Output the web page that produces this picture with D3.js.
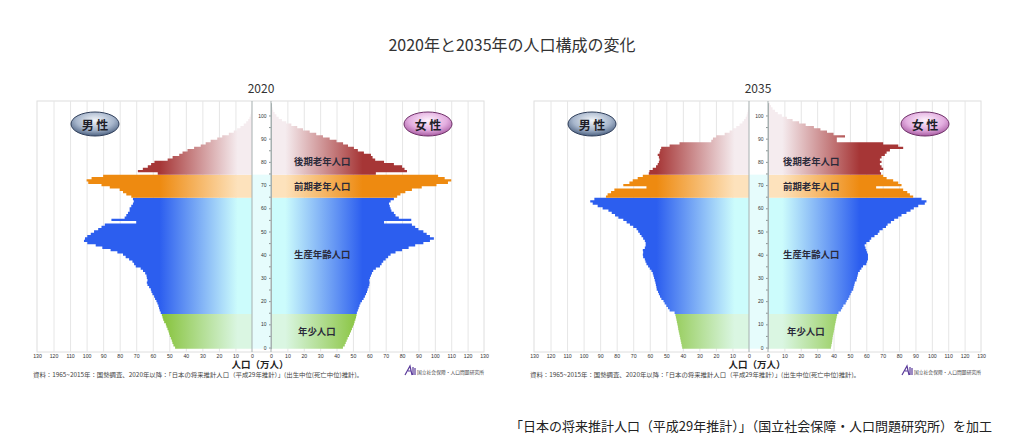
<!DOCTYPE html>
<html>
<head>
<meta charset="utf-8">
<script src="https://cdn.jsdelivr.net/npm/d3@7"></script>
<style>
  body { margin: 0; background: #fff; }
  svg { display: block; font-family: "Noto Sans CJK JP", "Noto Sans", sans-serif; }
</style>
</head>
<body>
<div id="main"></div>
<script>
const layout = {
  width: 1024,
  height: 448,
  maleZero: 252,
  maleEnd: 37,
  femaleZero: 271,
  femaleEnd: 484,
  frameTop: 101,
  frameBottom: 352,
  ageTop: 102.7,
  ageBottom: 348.7,
  panelShift: 497
};

// ages 0..105, values in 万人
const ages = d3.range(0, 106);
const xTicks = [0, 10, 20, 30, 40, 50, 60, 70, 80, 90, 100, 110, 120, 130];
const ageTicks = [0, 10, 20, 30, 40, 50, 60, 70, 80, 90, 100];

const male2020 = [
  46.5, 47.5, 48.1, 48.5, 49.1, 49.7, 50.1, 50.5, 51.1, 51.7,
  52.1, 53.1, 53.7, 54.1, 54.5, 55.2, 55.8, 56.2, 56.6, 57.2,
  57.8, 58.6, 59.2, 60.2, 60.8, 61.2, 62.2, 63.2, 63.6, 63.2,
  63.6, 63.8, 64.6, 65.9, 67.3, 70.3, 71.3, 72.3, 74.3, 76.4,
  78.0, 81.4, 85.5, 90.5, 94.5, 99.6, 101.6, 101.0, 99.6, 97.5,
  95.5, 93.0, 91.0, 89.0, 70.0, 85.0, 77.0, 76.0, 75.0, 74.0,
  74.0, 73.0, 72.0, 71.5, 72.0, 73.0, 76.0, 78.0, 80.0, 86.0,
  91.0, 99.0, 100.0, 97.0, 90.0, 57.0, 69.0, 66.0, 63.0, 61.0,
  59.0, 51.0, 48.0, 44.0, 42.0, 39.0, 35.0, 31.0, 28.0, 25.0,
  21.0, 18.0, 14.0, 11.0, 9.0, 7.0, 5.0, 3.5, 2.3, 1.5,
  0.9, 0.6, 0.4, 0.25, 0.15, 0.1
];
const female2020 = [
  43.9, 45.0, 45.6, 46.2, 46.8, 47.6, 48.2, 48.8, 49.4, 50.0,
  50.6, 51.0, 51.5, 51.9, 52.2, 52.4, 53.0, 53.5, 54.0, 54.6,
  55.5, 56.5, 57.3, 58.0, 58.6, 59.0, 59.6, 60.0, 60.2, 60.0,
  60.4, 61.0, 61.6, 62.4, 64.0, 66.5, 67.5, 68.5, 70.0, 71.5,
  73.0, 76.0, 80.0, 84.0, 88.0, 93.0, 97.0, 99.4, 97.0, 95.0,
  93.0, 90.0, 88.0, 86.0, 69.0, 85.6, 78.0, 76.0, 75.0, 73.5,
  73.0, 72.5, 72.0, 73.0, 75.0, 77.0, 79.0, 82.0, 86.0, 92.0,
  101.0, 108.0, 110.0, 106.0, 102.0, 64.0, 83.0, 81.5, 80.0, 75.0,
  69.0, 63.6, 62.0, 61.0, 56.7, 53.0, 50.6, 47.0, 44.0, 40.0,
  35.8, 31.7, 27.6, 23.6, 19.5, 16.0, 12.4, 9.3, 6.7, 4.7,
  3.3, 2.2, 1.4, 0.9, 0.5, 0.3
];
const male2035 = [
  40.4, 40.7, 41.0, 41.3, 41.6, 41.9, 42.2, 42.5, 42.8, 43.0,
  43.3, 43.6, 43.9, 44.2, 44.5, 45.0, 48.0, 49.0, 50.0, 51.0,
  51.7, 53.0, 53.8, 54.5, 55.0, 55.8, 56.0, 56.3, 56.6, 57.0,
  57.4, 57.8, 58.2, 59.0, 60.0, 61.0, 62.0, 62.6, 63.0, 64.0,
  64.2, 64.0, 64.2, 63.0, 62.5, 62.5, 63.0, 64.0, 65.0, 66.0,
  67.0, 68.0, 70.0, 72.0, 74.0, 76.0, 79.0, 81.0, 83.0, 85.0,
  88.5, 91.5, 94.5, 96.0, 93.5, 86.5, 85.5, 83.4, 81.4, 62.0,
  76.0, 72.3, 70.3, 67.3, 64.2, 60.6, 60.2, 58.2, 56.2, 55.2,
  54.5, 54.1, 54.5, 55.2, 54.1, 53.7, 53.1, 48.0, 42.0, 22.8,
  21.8, 19.8, 14.7, 11.7, 9.7, 7.7, 5.7, 4.0, 3.0, 2.0,
  1.4, 1.0, 0.7, 0.4, 0.25, 0.15
];
const female2035 = [
  38.4, 38.7, 39.0, 39.2, 39.4, 39.6, 39.9, 40.2, 40.5, 40.7,
  41.0, 41.3, 41.6, 41.9, 42.2, 43.0, 44.5, 45.3, 46.0, 47.4,
  48.0, 49.0, 49.7, 50.4, 51.0, 52.0, 52.3, 52.7, 53.0, 54.0,
  54.3, 54.7, 55.0, 56.0, 57.0, 58.0, 60.0, 60.5, 61.0, 61.0,
  61.0, 60.5, 60.0, 59.5, 59.0, 60.0, 62.0, 63.0, 65.0, 67.0,
  68.0, 70.0, 72.0, 73.0, 75.0, 77.0, 79.5, 81.5, 84.5, 87.0,
  89.0, 91.7, 95.7, 96.7, 93.7, 88.6, 86.6, 85.0, 82.5, 66.0,
  81.5, 79.5, 76.4, 72.4, 70.3, 69.0, 68.3, 70.3, 69.3, 68.3,
  69.3, 68.3, 69.3, 71.3, 72.4, 74.4, 82.5, 79.5, 70.3, 42.0,
  42.0, 47.0, 40.0, 36.0, 32.0, 28.0, 23.0, 19.0, 15.0, 11.5,
  8.5, 6.0, 4.3, 2.8, 1.8, 1.2
];

const ageGroups = [
  { key: "young", label: "年少人口", from: 0, to: 14 },
  { key: "working", label: "生産年齢人口", from: 15, to: 64 },
  { key: "early", label: "前期老年人口", from: 65, to: 74 },
  { key: "late", label: "後期老年人口", from: 75, to: 105 }
];

// colours and label placement (kept apart from the data)
const groupColors = {
  young: ["#daf6e2", "#84c136"],
  working: ["#ccfcfc", "#2c5eef"],
  early: ["#fde2bc", "#ee8a10"],
  late: ["#f5ecef", "#a63636"]
};
const labelAge = { young: 7.1, working: 40.4, early: 69.4, late: 80.4 };

const panels = [
  { year: "2020", male: male2020, female: female2020, dx: 0, labelDx: 23 },
  { year: "2035", male: male2035, female: female2035, dx: layout.panelShift, labelDx: 15 }
];

const sourceText = "資料：1965~2015年：国勢調査、2020年以降：「日本の将来推計人口（平成29年推計）」(出生中位(死亡中位)推計)。";
const creditText = "「日本の将来推計人口（平成29年推計）」（国立社会保障・人口問題研究所）を加工";

const svg = d3.select("#main").append("svg")
  .attr("width", layout.width)
  .attr("height", layout.height)
  .attr("viewBox", [0, 0, layout.width, layout.height].join(" "));
const defs = svg.append("defs");

const xMale = d3.scaleLinear().domain([0, 130]).range([layout.maleZero, layout.maleEnd]);
const xFemale = d3.scaleLinear().domain([0, 130]).range([layout.femaleZero, layout.femaleEnd]);
const yScale = d3.scaleLinear().domain([-0.5, 105.5]).range([layout.ageBottom, layout.ageTop]);

// horizontal gradients, light at the centre, saturated outward
const makeGradient = (id, scale, light, dark) => {
  const grad = defs.append("linearGradient")
    .attr("id", id)
    .attr("gradientUnits", "userSpaceOnUse")
    .attr("x1", scale(0)).attr("y1", 0)
    .attr("x2", scale(62)).attr("y2", 0);
  grad.append("stop").attr("offset", 0).attr("stop-color", light);
  grad.append("stop").attr("offset", 0.14).attr("stop-color", light);
  grad.append("stop").attr("offset", 0.9).attr("stop-color", dark);
  grad.append("stop").attr("offset", 1).attr("stop-color", dark);
};
ageGroups.forEach(gr => {
  makeGradient("m-" + gr.key, xMale, groupColors[gr.key][0], groupColors[gr.key][1]);
  makeGradient("f-" + gr.key, xFemale, groupColors[gr.key][0], groupColors[gr.key][1]);
});

const makeBadge = (id, c0, c1, c2) => {
  const grad = defs.append("radialGradient")
    .attr("id", id).attr("cx", "50%").attr("cy", "35%").attr("r", "65%");
  grad.append("stop").attr("offset", 0).attr("stop-color", c0);
  grad.append("stop").attr("offset", 0.6).attr("stop-color", c1);
  grad.append("stop").attr("offset", 1).attr("stop-color", c2);
};
makeBadge("badge-m", "#f2f5f9", "#a7b6cc", "#4d6282");
makeBadge("badge-f", "#fdf2fc", "#e3aee0", "#a95ca3");

// one stepped outline per age group so the rows join without seams
const stepPath = (values, scale, gr) => {
  const pts = [[scale(0), yScale(gr.from - 0.5)]];
  for (let a = gr.from; a <= gr.to; a++) {
    pts.push([scale(values[a]), yScale(a - 0.5)]);
    pts.push([scale(values[a]), yScale(a + 0.5)]);
  }
  pts.push([scale(0), yScale(gr.to + 0.5)]);
  return d3.line()(pts) + "Z";
};

const drawPanel = (p) => {
  const g = svg.append("g").attr("transform", `translate(${p.dx},0)`);

  // frame
  g.append("rect")
    .attr("x", layout.maleEnd).attr("y", layout.frameTop)
    .attr("width", layout.femaleEnd - layout.maleEnd)
    .attr("height", layout.frameBottom - layout.frameTop)
    .attr("fill", "#fff").attr("stroke", "#dedede");

  // vertical gridlines
  const gridH = layout.frameBottom - layout.frameTop;
  [xMale, xFemale].forEach(sc => {
    const grid = g.append("g")
      .attr("transform", `translate(0,${layout.frameBottom})`)
      .call(d3.axisBottom(sc).tickValues(xTicks.slice(1, -1)).tickSize(-gridH).tickFormat(""));
    grid.select(".domain").remove();
    grid.selectAll("line").attr("stroke", "#e6e6e6");
  });

  // pale column behind the age scale
  g.append("rect")
    .attr("x", layout.maleZero).attr("y", yScale(74.5))
    .attr("width", layout.femaleZero - layout.maleZero)
    .attr("height", yScale(-0.5) - yScale(74.5))
    .attr("fill", "#e6fcfc");

  g.selectAll(".bars-m")
    .data(ageGroups)
    .enter().append("path")
    .attr("class", "bars-m")
    .attr("d", gr => stepPath(p.male, xMale, gr))
    .attr("fill", gr => `url(#m-${gr.key})`);

  g.selectAll(".bars-f")
    .data(ageGroups)
    .enter().append("path")
    .attr("class", "bars-f")
    .attr("d", gr => stepPath(p.female, xFemale, gr))
    .attr("fill", gr => `url(#f-${gr.key})`);

  // centre lines and age scale
  g.append("line")
    .attr("x1", layout.maleZero).attr("x2", layout.maleZero)
    .attr("y1", layout.frameTop).attr("y2", layout.frameBottom)
    .attr("stroke", "#a6b0b0");
  const ageAxis = g.append("g")
    .attr("transform", `translate(${layout.femaleZero},0)`)
    .call(d3.axisLeft(yScale).tickValues(ageTicks).tickSize(2).tickSizeOuter(0).tickPadding(2.5));
  ageAxis.select(".domain").attr("stroke", "#a6b0b0");
  ageAxis.selectAll("line").attr("stroke", "#8a9494");
  ageAxis.selectAll("text").attr("font-size", 5).attr("fill", "#333").attr("font-family", "inherit");
  const minor = g.append("g")
    .attr("transform", `translate(${layout.femaleZero},0)`)
    .call(d3.axisLeft(yScale).tickValues(ageTicks.slice(0, -1).map(d => d + 5)).tickSize(2).tickFormat(""));
  minor.select(".domain").remove();
  minor.selectAll("line").attr("stroke", "#8a9494");
  g.append("line")
    .attr("x1", layout.femaleZero).attr("x2", layout.femaleZero)
    .attr("y1", layout.frameTop).attr("y2", layout.frameBottom)
    .attr("stroke", "#a6b0b0");

  // population tick labels under the frame
  [xMale, xFemale].forEach(sc => {
    const ax = g.append("g")
      .attr("transform", `translate(0,${layout.frameBottom + 1})`)
      .call(d3.axisBottom(sc).tickValues(xTicks).tickSize(0).tickPadding(1));
    ax.select(".domain").remove();
    ax.selectAll("text").attr("font-size", 5.2).attr("fill", "#333").attr("font-family", "inherit");
  });

  // group labels
  ageGroups.forEach(gr => {
    g.append("text")
      .attr("x", layout.femaleZero + p.labelDx + (gr.key == "young" ? 4 : 0))
      .attr("y", yScale(labelAge[gr.key]))
      .attr("dominant-baseline", "central")
      .attr("font-size", 9.4)
      .attr("font-weight", "bold")
      .attr("fill", "#2a2a3a")
      .text(gr.label);
  });

  // 男性 / 女性 badges
  [["badge-m", "#2f3e5a", 95, "男 性"], ["badge-f", "#6e3168", 428, "女 性"]].forEach(b => {
    g.append("ellipse")
      .attr("cx", b[2]).attr("cy", 124).attr("rx", 24).attr("ry", 12)
      .attr("fill", `url(#${b[0]})`).attr("stroke", b[1]).attr("stroke-width", 1);
    g.append("text")
      .attr("x", b[2]).attr("y", 124)
      .attr("text-anchor", "middle").attr("dominant-baseline", "central")
      .attr("font-size", 12).attr("font-weight", "bold").attr("fill", "#1e1e28")
      .text(b[3]);
  });

  // year, axis title, source, logo
  g.append("text")
    .attr("x", 261).attr("y", 93)
    .attr("text-anchor", "middle").attr("font-size", 12).attr("fill", "#333")
    .text(p.year);
  g.append("text")
    .attr("x", 260).attr("y", 368)
    .attr("text-anchor", "middle").attr("font-size", 9.5).attr("font-weight", "bold").attr("fill", "#222")
    .text("人口（万人）");
  g.append("text")
    .attr("x", 33).attr("y", 377)
    .attr("font-size", 6.2).attr("fill", "#444")
    .attr("textLength", 330).attr("lengthAdjust", "spacingAndGlyphs")
    .text(sourceText);
  g.append("path")
    .attr("d", "M405,375 L410,366 L412,375 M408,371 L411,371 M413,367 L413,375 M415,368 L415,375")
    .attr("fill", "none").attr("stroke", "#5a3a9a").attr("stroke-width", 1.2);
  g.append("text")
    .attr("x", 417).attr("y", 373.5)
    .attr("font-size", 4.8).attr("fill", "#444")
    .attr("textLength", 67).attr("lengthAdjust", "spacingAndGlyphs")
    .text("国立社会保障・人口問題研究所");
};

panels.forEach(drawPanel);

svg.append("text")
  .attr("x", layout.width / 2).attr("y", 51)
  .attr("text-anchor", "middle").attr("font-size", 16).attr("fill", "#333")
  .text("2020年と2035年の人口構成の変化");

svg.append("text")
  .attr("x", 510).attr("y", 431)
  .attr("font-size", 13).attr("fill", "#222")
  .attr("textLength", 482).attr("lengthAdjust", "spacingAndGlyphs")
  .text(creditText);
</script>
</body>
</html>
